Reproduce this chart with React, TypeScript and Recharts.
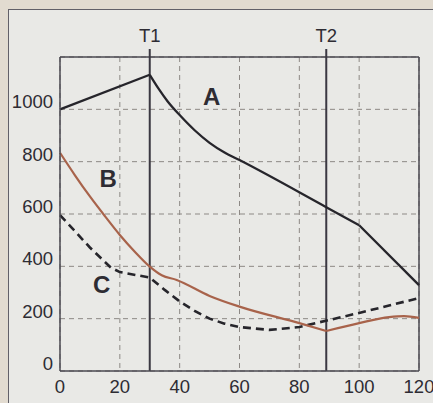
import React from "react"
import {
  LineChart,
  Line,
  XAxis,
  YAxis,
  CartesianGrid,
  ReferenceLine,
  ReferenceDot,
} from "recharts"

type Pt = { x: number; y: number }

// values
const xTicks = [0, 20, 40, 60, 80, 100, 120]
const yTicks = [0, 200, 400, 600, 800, 1000]

const seriesA1: Pt[] = [
  { x: 0, y: 1000 },
  { x: 30, y: 1132 },
]

const seriesA2: Pt[] = [
  { x: 30, y: 1132 },
  { x: 33, y: 1078 },
  { x: 36, y: 1030 },
  { x: 40, y: 978 },
  { x: 45, y: 920 },
  { x: 50, y: 872 },
  { x: 55, y: 835 },
  { x: 60, y: 806 },
  { x: 89, y: 626 },
  { x: 100, y: 557 },
]

const seriesA3: Pt[] = [
  { x: 100, y: 557 },
  { x: 120, y: 328 },
]

const seriesB1: Pt[] = [
  { x: 0, y: 834 },
  { x: 5, y: 748 },
  { x: 10, y: 667 },
  { x: 15, y: 592 },
  { x: 20, y: 520 },
  { x: 25, y: 456 },
  { x: 30, y: 399 },
  { x: 34, y: 366 },
  { x: 39, y: 348 },
  { x: 50, y: 287 },
  { x: 60, y: 246 },
  { x: 80, y: 183 },
  { x: 89, y: 153 },
]

const seriesB2: Pt[] = [
  { x: 89, y: 153 },
  { x: 100, y: 183 },
  { x: 110, y: 206 },
  { x: 115, y: 210 },
  { x: 120, y: 203 },
]

const seriesC: Pt[] = [
  { x: 0, y: 596 },
  { x: 10, y: 472 },
  { x: 17, y: 395 },
  { x: 20, y: 378 },
  { x: 30, y: 357 },
  { x: 35, y: 310 },
  { x: 40, y: 266 },
  { x: 45, y: 230 },
  { x: 50, y: 200 },
  { x: 55, y: 181 },
  { x: 60, y: 168 },
  { x: 70, y: 157 },
  { x: 80, y: 168 },
  { x: 90, y: 195 },
  { x: 100, y: 222 },
  { x: 110, y: 250 },
  { x: 120, y: 279 },
]

const markers = [
  { name: "T1", x: 30 },
  { name: "T2", x: 89 },
]

const curveLabels = [
  { name: "A", x: 50.7, y: 1051 },
  { name: "B", x: 16.1, y: 736 },
  { name: "C", x: 13.9, y: 332 },
]

const font = "'Liberation Sans', Arial, Helvetica, sans-serif"
const ink = "#2e2c33"
const dark = "#26252b"
const brown = "#a8634b"

const YTick = (p: any) => (
  <text x={p.x} y={p.y - 1} textAnchor="end" fontSize={18.5} fill={ink} fontFamily={font}>
    {p.payload.value}
  </text>
)

const XTick = (p: any) => (
  <text x={p.x} y={393} textAnchor="middle" fontSize={18.5} fill={ink} fontFamily={font}>
    {p.payload.value}
  </text>
)

const lineProps = {
  dataKey: "y",
  dot: false,
  isAnimationActive: false,
  activeDot: false,
}

export default function App() {
  return (
    <div
      style={{
        position: "fixed",
        left: 0,
        top: 0,
        width: 433,
        height: 403,
        background: "#e2dbd0",
      }}
    >
      <div
        style={{
          position: "absolute",
          left: 8,
          top: 9,
          width: 425,
          height: 394,
          boxSizing: "border-box",
          background: "#e9e9e6",
          borderLeft: "1.5px solid #626068",
          borderTop: "1.5px solid #626068",
        }}
      />
      <div style={{ position: "absolute", left: 0, top: 0 }}>
        <LineChart
          width={433}
          height={403}
          margin={{ top: 57, right: 14, left: 10, bottom: 12 }}
          style={{ fontFamily: font }}
        >
          <CartesianGrid stroke="#8d8985" strokeDasharray="5 4" strokeWidth={1} />
          <XAxis
            type="number"
            dataKey="x"
            domain={[0, 120]}
            ticks={xTicks}
            height={20}
            tickSize={0}
            tick={XTick}
            axisLine={{ stroke: "#4a4850", strokeWidth: 1.5 }}
            allowDuplicatedCategory={false}
          />
          <YAxis
            type="number"
            domain={[0, 1200]}
            ticks={yTicks}
            width={50}
            tickSize={0}
            tickMargin={7}
            tick={YTick}
            axisLine={{ stroke: "#4a4850", strokeWidth: 1.5 }}
          />
          <ReferenceLine y={1200} stroke="#4a4850" strokeWidth={1.5} />
          <ReferenceLine x={120} stroke="#4a4850" strokeWidth={1.5} />
          {markers.map((m) => (
            <ReferenceLine
              key={m.name}
              segment={[
                { x: m.x, y: 0 },
                { x: m.x, y: 1231 },
              ]}
              ifOverflow="visible"
              stroke="#3b3842"
              strokeWidth={2}
              label={{
                value: m.name,
                position: "top",
                offset: 7,
                fontSize: 18.5,
                fill: ink,
                fontFamily: font,
              }}
            />
          ))}
          <Line
            {...lineProps}
            data={seriesC}
            type="linear"
            stroke={dark}
            strokeWidth={2.6}
            strokeDasharray="8 5"
          />
          <Line {...lineProps} data={seriesB1} type="monotone" stroke={brown} strokeWidth={2.2} />
          <Line {...lineProps} data={seriesB2} type="monotone" stroke={brown} strokeWidth={2.2} />
          <Line {...lineProps} data={seriesA1} type="linear" stroke={dark} strokeWidth={2.3} />
          <Line {...lineProps} data={seriesA2} type="monotone" stroke={dark} strokeWidth={2.3} />
          <Line {...lineProps} data={seriesA3} type="linear" stroke={dark} strokeWidth={2.3} />
          {curveLabels.map((l) => (
            <ReferenceDot
              key={l.name}
              x={l.x}
              y={l.y}
              r={0}
              fill="none"
              stroke="none"
              label={{
                value: l.name,
                position: "center",
                fontSize: 24,
                fontWeight: "bold",
                fill: ink,
                fontFamily: font,
              }}
            />
          ))}
        </LineChart>
      </div>
    </div>
  )
}
